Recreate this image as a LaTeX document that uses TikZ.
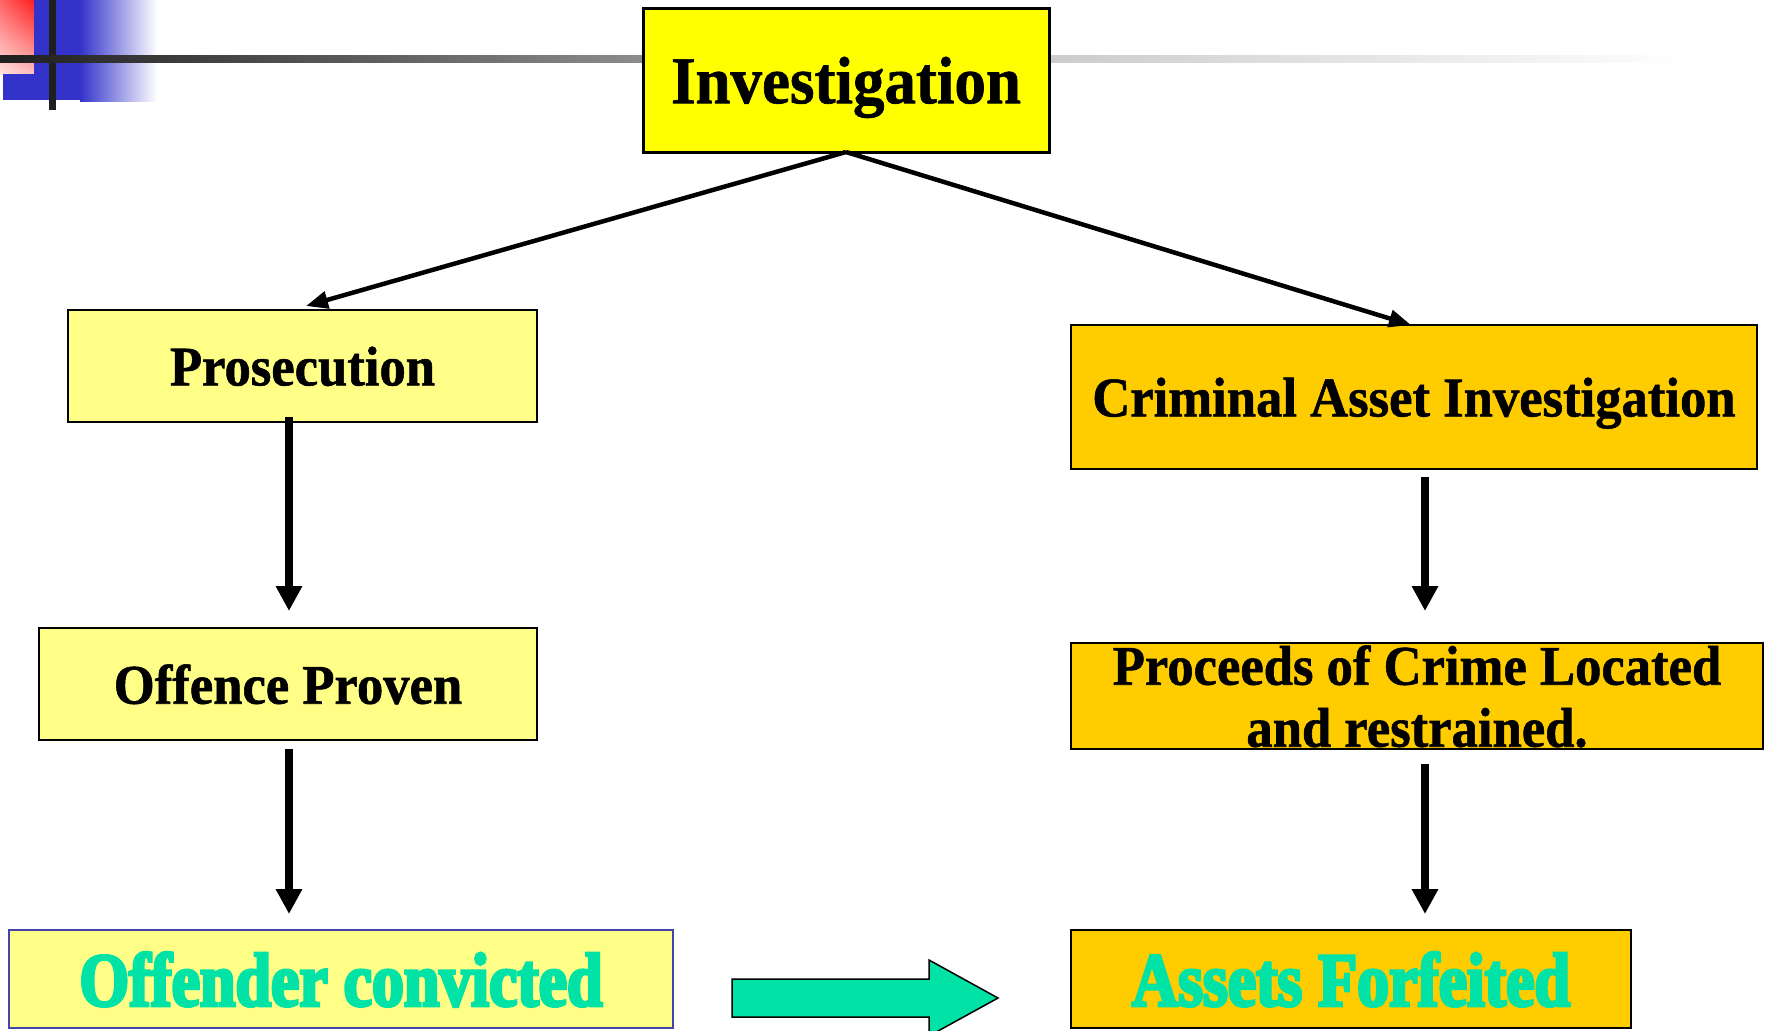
\documentclass[tikz,border=0pt]{standalone}
\usepackage{fontspec}
\setmainfont{Liberation Serif}
\newfontfamily\boxfont[FakeStretch=0.94,FakeBold=1]{Liberation Serif}
\newfontfamily\greenfont[FakeStretch=0.84,FakeBold=4]{Liberation Serif}
\usetikzlibrary{arrows.meta,shadings}
\definecolor{invyel}{HTML}{FFFF00}
\definecolor{lightyel}{HTML}{FFFF88}
\definecolor{gold}{HTML}{FFCC00}
\definecolor{teal}{RGB}{0,226,166}
\definecolor{bluebox}{HTML}{4444AA}
\definecolor{decoblue}{HTML}{3333CC}
\definecolor{redUL}{RGB}{255,100,100}
\definecolor{redUR}{RGB}{255,30,30}
\definecolor{redLL}{RGB}{255,225,225}
\definecolor{redLR}{RGB}{255,190,190}
\tikzset{
  box/.style={draw=black, line width=2.5pt, anchor=north west, inner sep=0pt, outer sep=0pt,
    align=center, text depth=0pt, font=\boxfont\bfseries\fontsize{56}{62}\selectfont},
  diagconn/.style={line width=4.5pt, -{Triangle[length=22pt,width=17pt]}},
  vertconn/.style={line width=7.5pt, -{Triangle[length=25pt,width=25pt]}},
  greentext/.style={text=teal, font=\greenfont\bfseries\fontsize{76}{80}\selectfont}
}
\begin{document}
\begin{tikzpicture}[x=1pt,y=-1pt]
\useasboundingbox (0,0) rectangle (1765,1031);
% corner decoration
\shade[upper left=redUL, upper right=redUR, lower left=redLL, lower right=redLR]
  (0,0) rectangle (34,74);
\fill[decoblue] (34,0) rectangle (80,100);
\fill[decoblue] (3,74) rectangle (34,100);
\shade[left color=decoblue, right color=white] (80,0) rectangle (157,101);
\fill[black!88] (49,0) rectangle (56,110);
\shade[left color=black!88, right color=black!45] (0,55) rectangle (643,62);
\shade[left color=black!20, right color=white] (1050,55) rectangle (1690,62);
% boxes
\node[box, fill=invyel, line width=3pt, minimum width=406pt, minimum height=144pt,
  font=\boxfont\bfseries\fontsize{67}{70}\selectfont] (inv) at (643,8) {Investigation};
\node[box, fill=lightyel, minimum width=469pt, minimum height=112pt] (pros) at (68,310) {Prosecution};
\node[box, fill=gold, minimum width=686pt, minimum height=144pt] (crim) at (1071,325) {Criminal Asset Investigation};
\node[box, fill=lightyel, minimum width=498pt, minimum height=112pt] (off) at (39,628) {Offence Proven};
\node[box, fill=gold, minimum width=692pt, minimum height=106pt] (proc) at (1071,643) {Proceeds of Crime Located\\and restrained.};
\node[box, fill=lightyel, draw=bluebox, line width=2pt, minimum width=664pt, minimum height=98pt, greentext] (conv) at (9,930) {Offender convicted};
\node[box, fill=gold, minimum width=560pt, minimum height=98pt, greentext] (forf) at (1071,930) {Assets Forfeited};
% connectors
\draw[diagconn] (inv.south) -- ([xshift=3.5pt,yshift=4pt]pros.north);
\draw[diagconn] (inv.south) -- ([xshift=-3pt]crim.north);
\draw[vertconn] ([xshift=-13.5pt,yshift=5pt]pros.south) -- ([xshift=1pt,yshift=17pt]off.north);
\draw[vertconn] ([xshift=1pt,yshift=-9pt]off.south) -- ([xshift=-52pt,yshift=16pt]conv.north);
\draw[vertconn] ([xshift=11pt,yshift=-8pt]crim.south) -- ([xshift=8pt,yshift=32pt]proc.north);
\draw[vertconn] ([xshift=8pt,yshift=-15pt]proc.south) -- ([xshift=74pt,yshift=16pt]forf.north);
% block arrow
\draw[fill=teal, line width=1.5pt, line join=miter] (732,979) -- (929,979) -- (929,960) -- (998,998)
  -- (929,1036) -- (929,1017) -- (732,1017) -- cycle;
\end{tikzpicture}
\end{document}
